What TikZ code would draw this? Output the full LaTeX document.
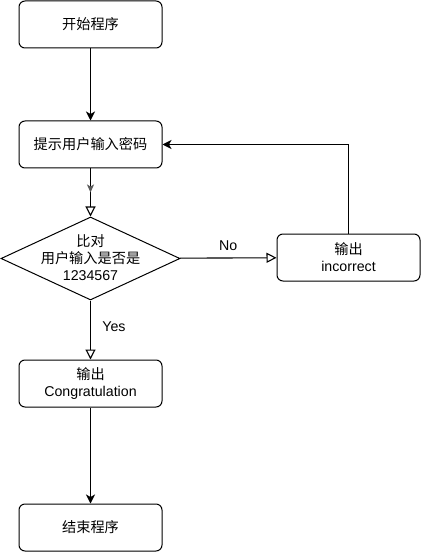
\documentclass[tikz,border=0pt]{standalone}
\usepackage{fontspec}
\setmainfont{Liberation Sans}
\newfontfamily\cjk{Noto Sans CJK SC}
\usetikzlibrary{shapes.geometric,arrows.meta,decorations.markings}
\begin{document}
\begin{tikzpicture}[x=1pt,y=-1pt,
  every node/.style={font=\fontsize{14.2}{17}\selectfont},
  boxnode/.style={draw, line width=1pt, rounded corners=6pt, minimum width=143pt, minimum height=47pt, inner sep=0pt, align=center, fill=white},
  decnode/.style={draw, line width=1pt, diamond, minimum width=179pt, minimum height=83pt, inner sep=0pt, fill=white},
  conn/.style={line width=1.1pt},
  filledtip/.style={-{Stealth[length=9pt,width=9pt,inset=2.5pt]}},
  opentip/.style={-{Triangle[open,length=10pt,width=10pt,fill=white]}},
  lbl/.style={font=\fontsize{14.2}{17}\selectfont}
]
\useasboundingbox (0,0) rectangle (421,553);
\node[boxnode] (start) at (90.5,24.5) {\cjk 开始程序};
\node[boxnode] (ask) at (90.5,144.5) {\cjk 提示用户输入密码};
\node[decnode, label={[align=center, inner sep=0pt, yshift=1pt, font=\fontsize{14.2}{17}\selectfont]center:{\cjk 比对}\\{\cjk 用户输入是否是}\\1234567}] (cmp) at (90.5,258.5) {};
\node[boxnode] (bad) at (348.5,257.5) {\cjk 输出\\incorrect};
\node[boxnode] (ok) at (90.5,383.5) {\cjk 输出\\Congratulation};
\node[boxnode] (stop) at (90.5,527.5) {\cjk 结束程序};
\coordinate (corner) at (bad.north |- ask.east);
\draw[conn,filledtip] (start) -- (ask);
\draw[conn,opentip,
  postaction={decorate},
  decoration={markings, mark=at position 0.5 with {\arrow[gray!70!black]{Stealth[length=8pt,width=7pt,inset=2pt]}}}]
  (ask) -- (cmp);
\draw[conn,opentip] (cmp) -- node[lbl,above=3pt] (nolbl) {No} (bad);
\draw[conn,opentip] (cmp) -- node[lbl,right=8pt,pos=0.45] (yeslbl) {Yes} (ok);
\draw[conn,filledtip] (bad.north) -- (corner) -- (ask.east);
\draw[conn,filledtip] (ok) -- (stop);
\end{tikzpicture}
\end{document}
